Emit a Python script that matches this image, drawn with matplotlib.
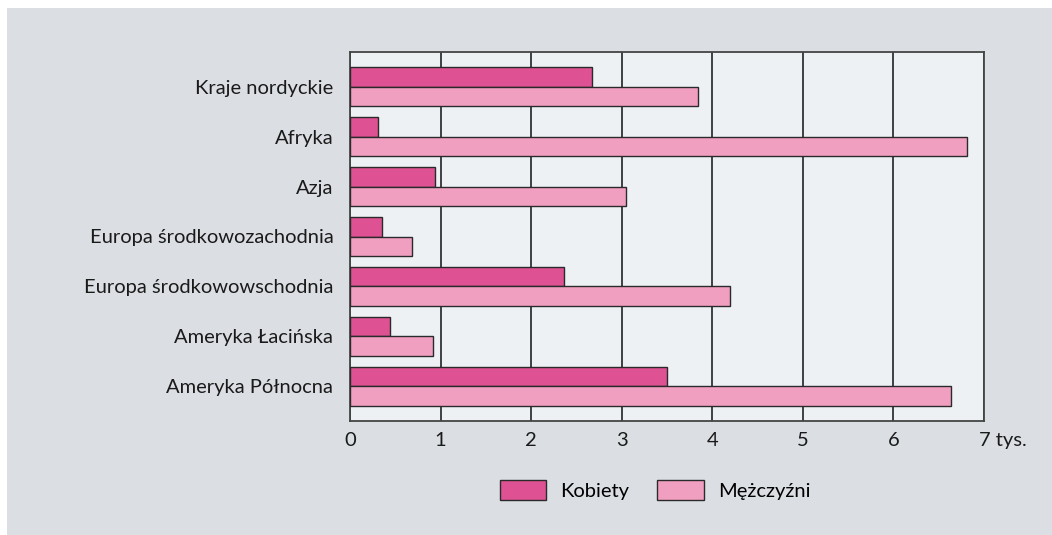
import matplotlib
matplotlib.use('Agg')
import matplotlib.pyplot as plt
import matplotlib.transforms as mtransforms
from matplotlib.patches import Rectangle, Patch
import numpy as np

# dane (tys. osób)
regiony = ['Kraje nordyckie', 'Afryka', 'Azja', 'Europa środkowozachodnia',
           'Europa środkowowschodnia', 'Ameryka Łacińska', 'Ameryka Północna']
kobiety = [2.67, 0.31, 0.94, 0.35, 2.36, 0.44, 3.50]
mezczyzni = [3.84, 6.81, 3.05, 0.69, 4.20, 0.92, 6.64]
xticks = [0, 1, 2, 3, 4, 5, 6, 7]
xlabels = ['0', '1', '2', '3', '4', '5', '6', '7 tys.']

plt.rcParams['font.family'] = ['Lato', 'DejaVu Sans']
fs = 14.5

fig = plt.figure(figsize=(10.52, 5.35), dpi=100)
fig.patch.set_facecolor('white')
fig.patches.append(Rectangle((7 / 1052, -0.1), 1.2, 1.1 - 8 / 535, transform=fig.transFigure,
                             facecolor='#dbdfe3', edgecolor='none', zorder=-10))

ax = fig.add_axes([350 / 1052, 1 - 421 / 535, 634 / 1052, 369 / 535])
ax.set_facecolor('#edf1f4')

y = np.arange(len(regiony))
h = 0.39
ax.barh(y - h / 2, kobiety, height=h, color='#de5192', edgecolor='#2a2a2a', linewidth=1.0,
        label='Kobiety', zorder=3)
ax.barh(y + h / 2, mezczyzni, height=h, color='#f19fc1', edgecolor='#2a2a2a', linewidth=1.0,
        label='Mężczyźni', zorder=3)

ax.set_xlim(0, 7)
ax.set_ylim(len(regiony) - 1 + 0.7, -0.7)
ax.set_xticks(xticks)
ax.set_xticklabels(xlabels)
ax.set_yticks(y)
ax.set_yticklabels(regiony)
ax.tick_params(axis='both', length=0, labelsize=fs, colors='#1a1a1a')
ax.tick_params(axis='y', pad=12)
ax.tick_params(axis='x', pad=8)
ax.grid(axis='x', color='#222222', linewidth=1.2, zorder=1)
ax.set_axisbelow(True)
for s in ax.spines.values():
    s.set_color('#444444')
    s.set_linewidth(1.3)

# "7 tys." - cyfra pod linią siatki, reszta w prawo
lab = ax.get_xticklabels()[-1]
lab.set_horizontalalignment('left')
lab.set_transform(lab.get_transform() + mtransforms.ScaledTranslation(-5 / 100, 0, fig.dpi_scale_trans))

handles = [Patch(facecolor='#de5192', edgecolor='#2a2a2a', label='Kobiety'),
           Patch(facecolor='#f19fc1', edgecolor='#2a2a2a', label='Mężczyźni')]
fig.legend(handles=handles, loc='center', bbox_to_anchor=(655 / 1052, 1 - 490 / 535), ncol=2,
           frameon=False, fontsize=fs, handlelength=2.3, handleheight=1.2,
           handletextpad=0.7, columnspacing=1.4)

fig.savefig('out.png', dpi=100, facecolor=fig.get_facecolor())
